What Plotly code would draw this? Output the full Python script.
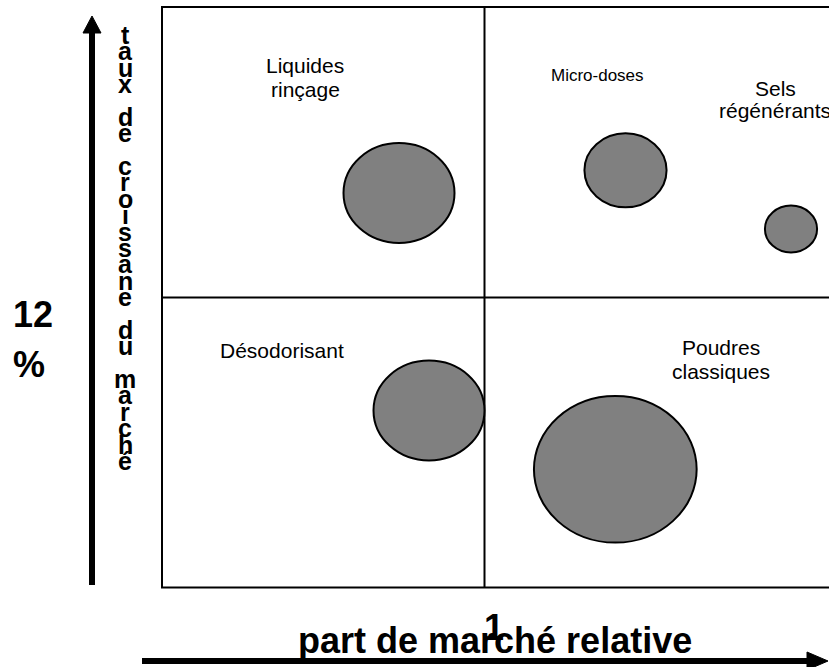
import plotly.graph_objects as go

# ---------------- data ----------------
products = ["Liquides rinçage", "Micro-doses", "Sels régénérants", "Désodorisant", "Poudres classiques"]
label_lines = [["Liquides", "rinçage"], ["Micro-doses"], ["Sels", "régénérants"], ["Désodorisant"], ["Poudres", "classiques"]]
market_share = [399, 625.5, 791, 429, 615.3]      # horizontal position (relative market share scale)
market_growth = [474, 496.7, 438, 256.5, 197.7]   # vertical position (growth scale)
bubble_size = [50, 37, 23.5, 50, 73.3]            # bubble radius (sales volume)

share_threshold = 484.5    # tick "1"
growth_threshold = 369.5   # tick "12 %"
x_tick_label = "1"
y_tick_label = ["12", "%"]
x_title = "part de marché relative"
y_title = "taux de croissane du marché"

# ---------------- layout helpers ----------------
W, H = 829, 667
ASPECT = 1.11
# (x, y of first line, line step, font size)
label_pos = [(305, 602, 24, 21), (597, 592, 0, 17), (775, 579, 22, 21), (282, 317, 0, 21), (721, 320, 24, 21)]
BOX = dict(left=162, right=845, bottom=79.5, top=660)
FONT = "Liberation Sans, Arial, sans-serif"

fig = go.Figure()
fig.add_trace(go.Scatter(x=market_share, y=market_growth, mode="markers",
                         marker=dict(size=1, opacity=0), text=products,
                         hoverinfo="text", showlegend=False))

shapes = []
# matrix frame
shapes.append(dict(type="rect", xref="x", yref="y", x0=BOX["left"], x1=BOX["right"],
                   y0=BOX["bottom"], y1=BOX["top"], line=dict(color="black", width=2)))
shapes.append(dict(type="line", xref="x", yref="y", x0=share_threshold, x1=share_threshold,
                   y0=BOX["bottom"], y1=BOX["top"], line=dict(color="black", width=2)))
shapes.append(dict(type="line", xref="x", yref="y", x0=BOX["left"], x1=BOX["right"],
                   y0=growth_threshold, y1=growth_threshold, line=dict(color="black", width=2)))
# bubbles
for x, y, r in zip(market_share, market_growth, bubble_size):
    shapes.append(dict(type="circle", xref="x", yref="y",
                       x0=x - r * ASPECT, x1=x + r * ASPECT, y0=y - r, y1=y + r,
                       fillcolor="#808080", line=dict(color="black", width=2), layer="above"))
# axis arrows
shapes.append(dict(type="line", xref="x", yref="y", x0=92, x1=92, y0=82, y1=636,
                   line=dict(color="black", width=6)))
shapes.append(dict(type="path", xref="x", yref="y", path="M 83,634 L 101,634 L 92,651 Z",
                   fillcolor="black", line=dict(color="black", width=1)))
shapes.append(dict(type="line", xref="x", yref="y", x0=142, x1=810, y0=6, y1=6,
                   line=dict(color="black", width=6)))
shapes.append(dict(type="path", xref="x", yref="y", path="M 807,15 L 807,-3 L 828,6 Z",
                   fillcolor="black", line=dict(color="black", width=1)))

annotations = []
# bubble labels
for lines, (lx, ly, step, fs) in zip(label_lines, label_pos):
    for i, t in enumerate(lines):
        annotations.append(dict(x=lx, y=ly - i * step, xref="x", yref="y", text=t,
                                showarrow=False, xanchor="center", yanchor="middle",
                                font=dict(family=FONT, size=fs, color="black")))
# tick labels
annotations.append(dict(x=11, y=H - 314, xref="x", yref="y", text=y_tick_label[0], showarrow=False,
                        xanchor="left", yanchor="middle",
                        font=dict(family=FONT, size=36, color="black", weight="bold")))
annotations.append(dict(x=11, y=H - 364, xref="x", yref="y", text=y_tick_label[1], showarrow=False,
                        xanchor="left", yanchor="middle",
                        font=dict(family=FONT, size=36, color="black", weight="bold")))
annotations.append(dict(x=share_threshold + 9, y=H - 627, xref="x", yref="y", text=x_tick_label,
                        showarrow=False, xanchor="center", yanchor="middle",
                        font=dict(family=FONT, size=36, color="black", weight="bold")))
# axis titles
annotations.append(dict(x=495, y=H - 640, xref="x", yref="y", text=x_title, showarrow=False,
                        xanchor="center", yanchor="middle",
                        font=dict(family=FONT, size=36, color="black", weight="bold")))
pitch = (461 - 35) / (len(y_title) - 1)
for i, ch in enumerate(y_title):
    if ch == " ":
        continue
    annotations.append(dict(x=125, y=H - (35 + i * pitch), xref="x", yref="y", text=ch,
                            showarrow=False, xanchor="center", yanchor="middle",
                            font=dict(family=FONT, size=25, color="black", weight="bold")))

fig.update_layout(
    width=W, height=H, margin=dict(l=0, r=0, t=0, b=0),
    paper_bgcolor="white", plot_bgcolor="white",
    xaxis=dict(range=[0, W], visible=False, fixedrange=True),
    yaxis=dict(range=[0, H], visible=False, fixedrange=True),
    shapes=shapes, annotations=annotations, showlegend=False,
)

fig.write_html("out.html", config={"displayModeBar": False},
               post_script="document.body.style.margin='0';document.body.style.overflow='hidden';")
